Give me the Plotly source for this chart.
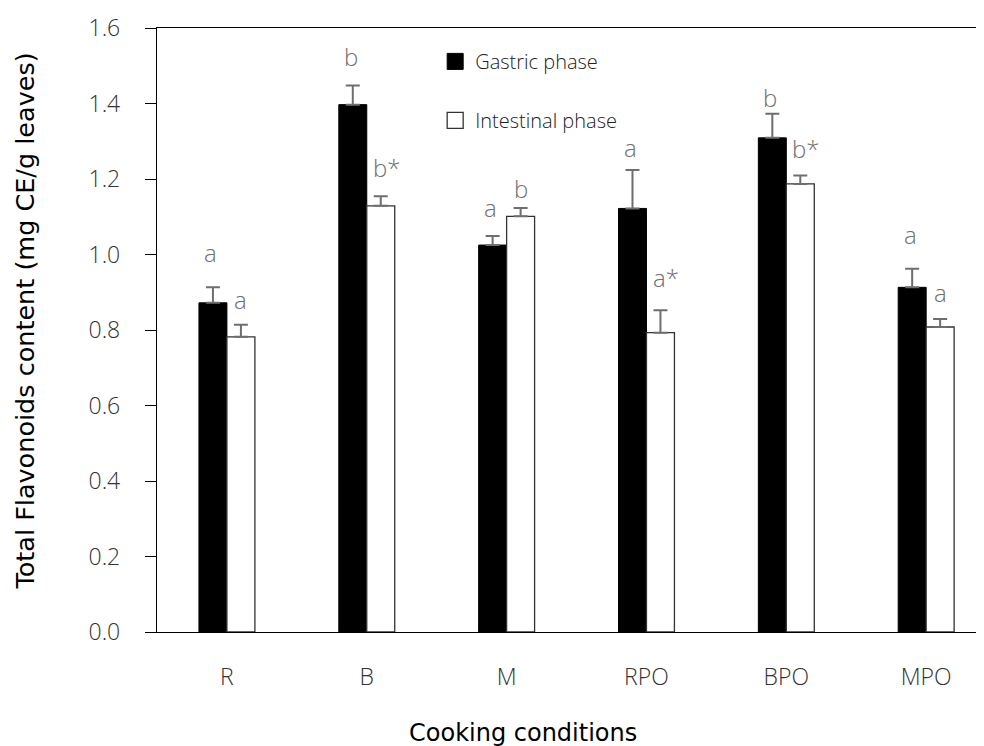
import plotly.graph_objects as go

categories = ["R", "B", "M", "RPO", "BPO", "MPO"]
gastric = [0.872, 1.397, 1.025, 1.122, 1.309, 0.913]
gastric_err = [0.041, 0.051, 0.024, 0.102, 0.064, 0.049]
intestinal = [0.782, 1.129, 1.101, 0.793, 1.187, 0.808]
intestinal_err = [0.032, 0.025, 0.022, 0.059, 0.022, 0.021]
gastric_letters = ["a", "b", "a", "a", "b", "a"]
intestinal_letters = ["a", "b*", "b", "a*", "b*", "a"]
y_ticks = [0.0, 0.2, 0.4, 0.6, 0.8, 1.0, 1.2, 1.4, 1.6]

xpos = list(range(len(categories)))
TICK_FONT = dict(family="Open Sans", size=23, color="#333333", weight=300)
TITLE_FONT = dict(family="DejaVu Sans", size=24, color="black")
YTITLE_FONT = dict(family="DejaVu Sans", size=25.5, color="black")
LETTER_FONT = dict(family="Open Sans", size=24, color="#707070", weight=300)
ERR_COLOR = "#6e6e6e"

fig = go.Figure()
fig.add_trace(go.Bar(
    x=xpos, y=gastric, name="Gastric phase", showlegend=False,
    marker=dict(color="black", line=dict(color="black", width=1)),
    error_y=dict(type="data", array=gastric_err, arrayminus=[0]*len(gastric_err),
                 symmetric=False, color=ERR_COLOR, thickness=2, width=7),
))
fig.add_trace(go.Bar(
    x=xpos, y=intestinal, name="Intestinal phase", showlegend=False,
    marker=dict(color="white", line=dict(color="#333333", width=1.3)),
    error_y=dict(type="data", array=intestinal_err, arrayminus=[0]*len(intestinal_err),
                 symmetric=False, color=ERR_COLOR, thickness=2, width=7),
))
# legend entries
fig.add_trace(go.Scatter(x=[None], y=[None], mode="markers", name="Gastric phase", legendgroup="g",
                         marker=dict(symbol="square", size=16, color="black",
                                     line=dict(color="black", width=1))))
fig.add_trace(go.Scatter(x=[None], y=[None], mode="markers", name="Intestinal phase", legendgroup="i",
                         marker=dict(symbol="square", size=16, color="white",
                                     line=dict(color="#333333", width=1.3))))

# letter offsets (pixels above error bar top, to the label middle)
g_gap = [35, 29, 29, 22, 16, 34]
i_gap = [25, 29, 20, 33, 27, 27]
for i, x in enumerate(xpos):
    fig.add_annotation(x=x - 0.1, y=gastric[i] + gastric_err[i], text=gastric_letters[i],
                       showarrow=False, yanchor="middle", yshift=g_gap[i], xshift=-2,
                       font=LETTER_FONT)
    star = "*" in intestinal_letters[i]
    fig.add_annotation(x=x + 0.1, y=intestinal[i] + intestinal_err[i], text=intestinal_letters[i],
                       showarrow=False, yanchor="middle", yshift=i_gap[i],
                       xshift=6 if star else 0, font=LETTER_FONT)

fig.add_annotation(x=(523 - 157) / 823, y=0, xref="paper", yref="paper", yshift=-101,
                   yanchor="middle", xanchor="center",
                   text="Cooking conditions", showarrow=False, font=TITLE_FONT)
fig.add_annotation(x=(25 - 157) / 823, y=(632 - 321) / 605, xref="paper", yref="paper",
                   xanchor="center", yanchor="middle", textangle=-90,
                   text="Total Flavonoids content (mg CE/g leaves)", showarrow=False,
                   font=YTITLE_FONT)

fig.update_layout(
    width=976, height=738,
    margin=dict(l=149, r=4, t=19.5, b=113.7),
    paper_bgcolor="white", plot_bgcolor="white",
    barmode="group", bargap=0.6, bargroupgap=0,
    showlegend=True,
    legend=dict(x=0.338, y=0.977, xanchor="left", yanchor="top",
                bgcolor="rgba(0,0,0,0)", tracegroupgap=30, itemsizing="trace",
                font=dict(family="Open Sans", size=20, color="#222222", weight=300)),
    xaxis=dict(range=[-0.5, 5.385], tickvals=xpos, ticktext=categories,
               showline=True, linecolor="black", linewidth=1.3, mirror=True,
               ticks="", ticklabelstandoff=24, showgrid=False, zeroline=False,
               automargin=False, tickfont=TICK_FONT),
    yaxis=dict(range=[0, 1.6], tickvals=y_ticks, ticktext=[f"{v:.1f}" for v in y_ticks],
               showline=True, linecolor="black", linewidth=1.3,
               ticks="outside", ticklen=11, tickcolor="black", tickwidth=1,
               ticklabelstandoff=20, showgrid=False, zeroline=False,
               automargin=False, tickfont=TICK_FONT),
)

fig.write_html("out.html")
